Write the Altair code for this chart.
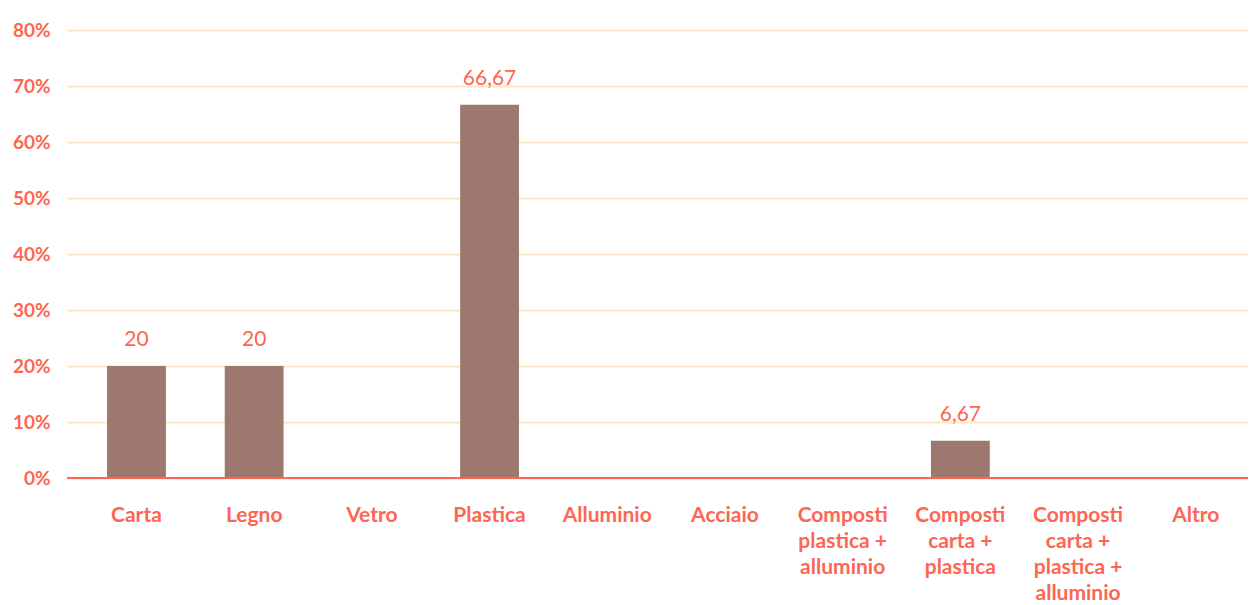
import altair as alt
import pandas as pd

categories = ["Carta", "Legno", "Vetro", "Plastica", "Alluminio", "Acciaio",
              "Composti\nplastica +\nalluminio", "Composti\ncarta +\nplastica",
              "Composti\ncarta +\nplastica +\nalluminio", "Altro"]
values = [20, 20, 0, 66.67, 0, 0, 0, 6.67, 0, 0]
value_labels = ["20", "20", "", "66,67", "", "", "", "6,67", "", ""]
y_ticks = [0, 10, 20, 30, 40, 50, 60, 70, 80]

df = pd.DataFrame({"cat": categories, "val": values, "lab": value_labels})

CORAL = "#fe6552"
BAR = "#9e786e"
GRID = "#fde7c6"
FONT = "Lato"

x = alt.X("cat:N", sort=categories, title=None,
          scale=alt.Scale(paddingInner=0.5, paddingOuter=0.267, align=0.637),
          axis=alt.Axis(labelAngle=0, labelExpr="split(datum.label, '\\n')",
                        labelColor=CORAL, labelFont=FONT, labelFontWeight="bold",
                        labelFontSize=21, labelLineHeight=26, labelPadding=37,
                        labelBaseline="middle", ticks=False, domain=False,
                        labelLimit=200))
y = alt.Y("val:Q", title=None,
          scale=alt.Scale(domain=[0, 80], nice=False),
          axis=alt.Axis(values=y_ticks, labelExpr="datum.value + '%'",
                        labelColor=CORAL, labelFont=FONT, labelFontWeight="bold",
                        labelFontSize=19, labelPadding=17, ticks=False,
                        domain=False, gridColor=GRID, gridWidth=2))

bars = alt.Chart(df).mark_bar(color=BAR).encode(x=x, y=y)

base_line = alt.Chart(df).mark_rule(color=CORAL, strokeWidth=2).encode(
    y=alt.datum(0), x=alt.value(0), x2=alt.value(1200))

texts = alt.Chart(df).transform_filter("datum.lab != ''").mark_text(
    color=CORAL, font=FONT, fontSize=21, baseline="middle", dy=-26
).encode(x=alt.X("cat:N", sort=categories), y="val:Q", text="lab:N")

chart = alt.layer(bars, base_line, texts).properties(
    width=1181, height=448,
    autosize=alt.AutoSizeParams(type="none"),
    padding={"left": 59, "top": 22, "right": 0, "bottom": 127},
).configure_view(stroke=None)

chart.save("out.html", embed_options={"renderer": "svg", "actions": False})
